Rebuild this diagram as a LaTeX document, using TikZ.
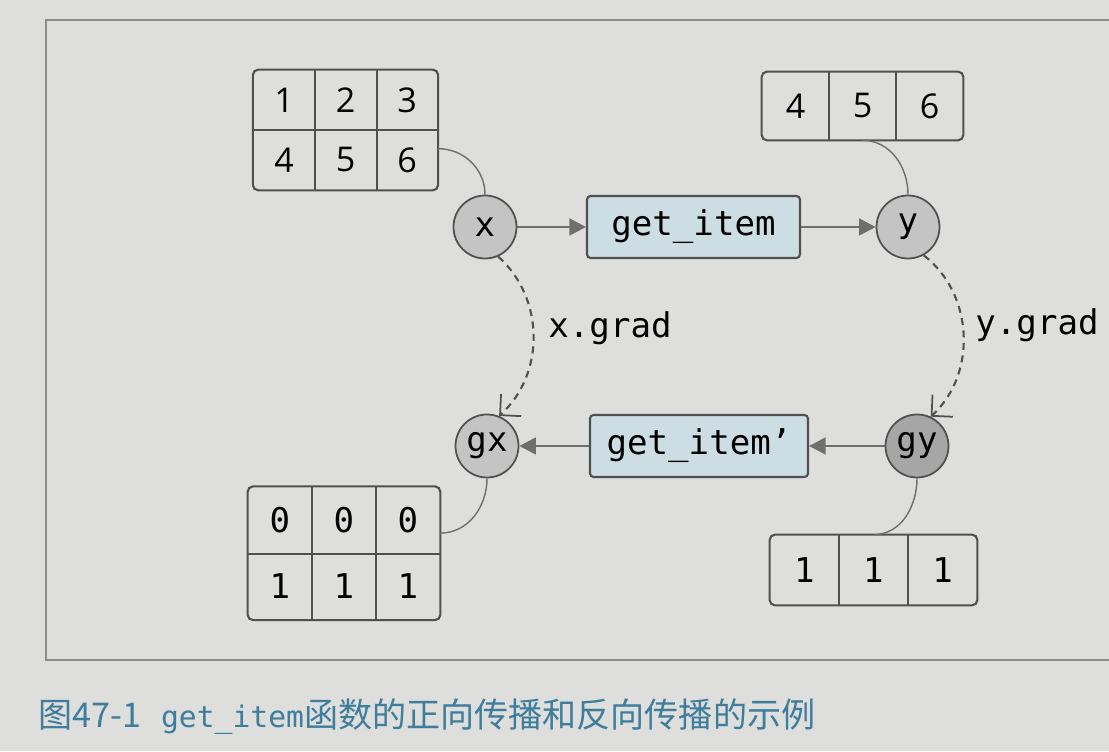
\documentclass[tikz,border=0pt]{standalone}
\usepackage{fontspec}
\setmonofont{DejaVu Sans Mono}
\newfontfamily\opensans{Open Sans}
\newfontfamily\cjk{Noto Sans CJK SC}
\usetikzlibrary{arrows.meta}
\definecolor{paper}{RGB}{222,222,220}
\definecolor{boxblue}{RGB}{204,221,227}
\definecolor{nodegray}{RGB}{196,196,196}
\definecolor{nodedark}{RGB}{166,166,166}
\definecolor{edge}{RGB}{80,80,80}
\definecolor{wire}{RGB}{110,110,110}
\definecolor{framegray}{RGB}{140,140,140}
\definecolor{capblue}{RGB}{62,125,155}

\begin{document}
\begin{tikzpicture}[x=0.02cm, y=0.02cm]
       \tikzset{
           num/.style={minimum width=1.23cm, minimum height=1.2cm, inner sep=0pt, font=\opensans\fontsize{19.4}{23}\selectfont},
           vnum/.style={num, minimum width=1.34cm, minimum height=1.36cm},
           gnum/.style={num, minimum width=1.28cm, minimum height=1.33cm, font=\ttfamily\fontsize{19.4}{23}\selectfont},
           gvnum/.style={gnum, minimum width=1.38cm, minimum height=1.4cm},
           outline/.style={draw=edge, line width=1.2pt, rounded corners=3pt},
           grid/.style={draw=edge, line width=1.1pt},
           var/.style={circle, draw=edge, line width=1pt, fill=nodegray, minimum size=1.26cm, inner sep=0pt, font=\ttfamily\fontsize{19.4}{23}\selectfont},
           func/.style={draw=edge, line width=1.2pt, fill=boxblue, rounded corners=2pt, minimum height=1.24cm, minimum width=4.26cm, inner sep=0pt, font=\ttfamily\fontsize{19.4}{23}\selectfont},
           link/.style={draw=wire, line width=0.8pt},
           arr/.style={draw=wire, line width=0.8pt, -{Triangle[length=3.3mm,width=3.4mm]}},
           grad/.style={draw=edge, line width=1.2pt, dash pattern=on 1.4mm off 1.1mm, -{Straight Barb[length=3mm,width=6mm,line width=1pt]}},
           lbl/.style={inner sep=0pt, font=\ttfamily\fontsize{19.4}{23}\selectfont}
       }
       \path[use as bounding box, fill=paper] (0,0) rectangle (1109,751);
       \draw[framegray, line width=0.6pt] (1109,731) -- (46,731) -- (46,91) -- (1109,91);

       % data of x
       \node[num] (a1) at (284,651) {1};
       \node[num] (a2) at (345.5,651) {2};
       \node[num] (a3) at (407,651) {3};
       \node[num] (a4) at (284,591) {4};
       \node[num] (a5) at (345.5,591) {5};
       \node[num] (a6) at (407,591) {6};
       \draw[outline] (a1.north west) rectangle (a6.south east);
       \draw[grid] (a1.north east) -- (a4.south east) (a2.north east) -- (a5.south east) (a1.south west) -- (a3.south east);

       % data of y
       \node[vnum] (b1) at (795.5,645) {4};
       \node[vnum] (b2) at (862.5,645) {5};
       \node[vnum] (b3) at (929.5,645) {6};
       \draw[outline] (b1.north west) rectangle (b3.south east);
       \draw[grid] (b1.north east) -- (b1.south east) (b2.north east) -- (b2.south east);

       % data of gx
       \node[gnum] (c1) at (280,231) {0};
       \node[gnum] (c2) at (344,231) {0};
       \node[gnum] (c3) at (408,231) {0};
       \node[gnum] (c4) at (280,164.5) {1};
       \node[gnum] (c5) at (344,164.5) {1};
       \node[gnum] (c6) at (408,164.5) {1};
       \draw[outline] (c1.north west) rectangle (c6.south east);
       \draw[grid] (c1.north east) -- (c4.south east) (c2.north east) -- (c5.south east) (c1.south west) -- (c3.south east);

       % data of gy
       \node[gvnum] (d1) at (804.5,181) {1};
       \node[gvnum] (d2) at (873.5,181) {1};
       \node[gvnum] (d3) at (942.5,181) {1};
       \draw[outline] (d1.north west) rectangle (d3.south east);
       \draw[grid] (d1.north east) -- (d1.south east) (d2.north east) -- (d2.south east);

       % variables and functions
       \node[var] (x) at (485,524) {x};
       \node[var] (y) at (908,524) {y};
       \node[var] (gx) at (487,305) {gx};
       \node[var, fill=nodedark] (gy) at (917,305) {gy};
       \node[func] (f) at (693.5,524) {get\_item};
       \node[func, minimum width=4.36cm] (fb) at (699,305) {get\_item’};

       \draw[link] (a6.20) to[out=0,in=90] (x.north);
       \draw[link] (b2.south) to[out=0,in=90] (y.north);
       \draw[link] (gx.south) to[out=-90,in=0] (c3.-22);
       \draw[link] (gy.south) to[out=-90,in=0] (d2.north);

       \draw[arr] (x) -- (f);
       \draw[arr] (f) -- (y);
       \draw[arr] (gy) -- (fb);
       \draw[arr] (fb) -- (gx);

       \draw[grad] (x.-66) to[bend left=48] (gx.68);
       \draw[grad] (y.-61) to[bend left=50] (gy.65);
       \node[lbl] (xg) at (610,423) {x.grad};
       \node[lbl] (yg) at (1037,426) {y.grad};

       % caption
       \node[anchor=west, inner sep=0pt, text=capblue] (cap) at (38,34) {\cjk\fontsize{19.4}{23}\selectfont 图47-1\hspace{0.4cm}{\ttfamily\fontsize{16.9}{20}\selectfont get\_item}函数的正向传播和反向传播的示例};
\end{tikzpicture}
\end{document}
